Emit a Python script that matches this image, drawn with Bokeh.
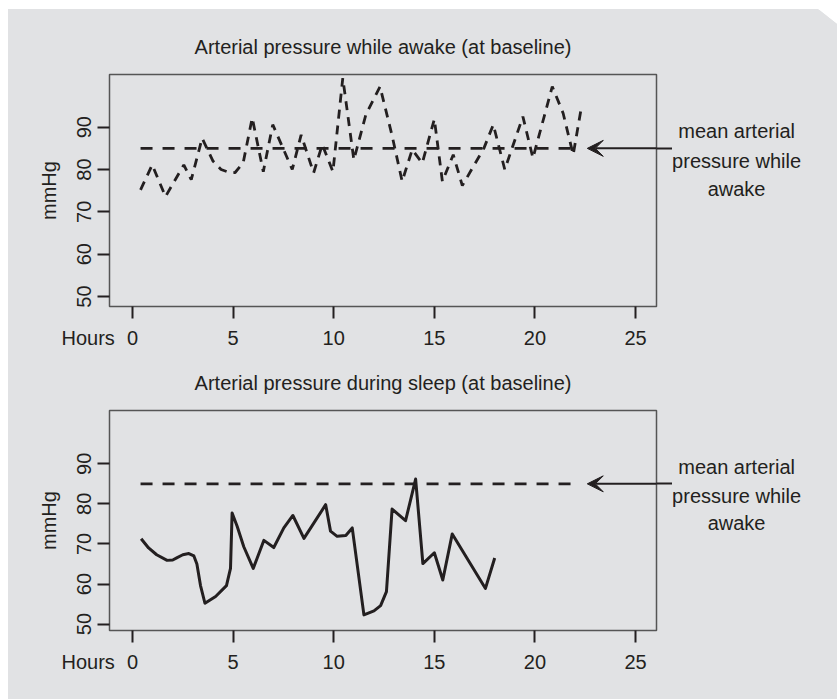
from bokeh.plotting import figure
from bokeh.layouts import column, row
from bokeh.models import Arrow, VeeHead, FixedTicker, Range1d, Title, LinearAxis
from bokeh.core.properties import value
from bokeh.embed import file_html
from bokeh.resources import INLINE

# ---------------- data ----------------
awake_hours = [0.4, 0.98, 1.64, 2.55, 2.92, 3.46, 4.0, 4.4, 4.87, 5.1, 5.5, 5.95, 6.5, 6.97,
               7.94, 8.38, 9.0, 9.43, 9.96, 10.45, 11.0, 11.6, 12.3, 12.9, 13.4, 13.9, 14.4,
               15.0, 15.4, 15.94, 16.39, 17.46, 17.93, 18.5, 19.4, 19.9, 20.86, 21.4, 21.9, 22.3]
awake_mmhg = [75.2, 81.1, 73.6, 81.1, 77.6, 87.4, 82.0, 80.0, 79.2, 79.3, 81.6, 92.2, 79.5, 90.6,
              80.0, 88.2, 79.2, 85.9, 79.5, 101.6, 82.3, 93.0, 99.6, 88.0, 77.2, 84.7, 81.5,
              91.9, 77.2, 83.5, 76.2, 85.0, 90.6, 80.0, 92.5, 82.7, 99.6, 93.3, 83.5, 94.5]

sleep_hours = [0.43, 0.8, 1.2, 1.72, 2.0, 2.22, 2.5, 2.8, 3.05, 3.2, 3.38, 3.6, 4.13, 4.67, 4.87,
               4.95, 5.2, 5.53, 6.0, 6.53, 7.02, 7.52, 7.97, 8.52, 9.6, 9.84, 10.17, 10.6, 10.92,
               11.5, 12.0, 12.33, 12.62, 12.9, 13.57, 14.07, 14.43, 15.0, 15.42, 15.89, 17.54, 18.0]
sleep_mmhg = [71.3, 69.0, 67.3, 65.9, 66.0, 66.6, 67.3, 67.6, 67.0, 65.0, 59.6, 55.2, 56.9, 59.6, 63.9,
              77.7, 74.4, 69.3, 63.9, 70.9, 69.1, 74.0, 77.1, 71.4, 79.8, 73.2, 71.9, 72.1, 74.0,
              52.3, 53.3, 54.6, 58.1, 78.7, 75.8, 86.2, 65.1, 67.8, 61.0, 72.5, 58.9, 66.5]

mean_awake = 85
mean_line_hours = [0.4, 22.2]
x_ticks = [0, 5, 10, 15, 20, 25]
y_ticks = [50, 60, 70, 80, 90]
titles = ["Arterial pressure while awake (at baseline)",
          "Arterial pressure during sleep (at baseline)"]
note_lines = ["mean arterial", "pressure while", "awake"]
note_hours = [30.02, 30.02, 30.02]
note_mmhg = [89.1, 82.0, 75.3]

BG = "#e1e2e4"
INK = "#231f20"
FONT = "Liberation Sans"

X0, X1 = -1.143, 26.04          # main x range (hours)
FRAME_W, FRAME_H = 547, 232
LEFT_B, RIGHT_B = 101, 16
RIGHT_W = 165


def make_panel(title, top, bottom, yr, corner=False):
    height = top + FRAME_H + bottom
    p = figure(width=LEFT_B + FRAME_W + RIGHT_B, height=height,
               x_range=Range1d(X0, X1), y_range=Range1d(*yr),
               output_backend="svg", toolbar_location=None,
               min_border_left=LEFT_B, min_border_right=RIGHT_B,
               min_border_top=top, min_border_bottom=bottom,
               styles={"background-color": BG})
    p.background_fill_color = BG
    p.border_fill_color = BG
    p.outline_line_color = "#555555"
    p.outline_line_width = 1.5
    p.grid.visible = False

    p.title.text = title
    p.title.align = "center"
    p.title.text_font = FONT
    p.title.text_font_size = "20px"
    p.title.text_font_style = "normal"
    p.title.text_color = INK
    p.title.standoff = 33

    for ax in (p.xaxis[0], p.yaxis[0]):
        ax.axis_line_color = None
        ax.major_tick_in = 0
        ax.major_tick_out = 12
        ax.major_tick_line_width = 2
        ax.major_tick_line_color = INK
        ax.minor_tick_line_color = None
        ax.major_label_text_font = FONT
        ax.major_label_text_font_size = "20px"
        ax.major_label_text_color = INK
    p.xaxis.ticker = FixedTicker(ticks=x_ticks)
    p.xaxis.major_label_standoff = 12
    p.yaxis.ticker = FixedTicker(ticks=y_ticks)
    p.yaxis.major_label_orientation = "vertical"
    p.yaxis.major_label_standoff = 6
    p.yaxis.axis_label = "mmHg"
    p.yaxis.axis_label_text_font = FONT
    p.yaxis.axis_label_text_font_size = "20px"
    p.yaxis.axis_label_text_font_style = "normal"
    p.yaxis.axis_label_text_color = INK
    p.yaxis.axis_label_standoff = 15

    # tail of the arrow, outside the frame (a single tick at the mean level)
    tail = LinearAxis(ticker=FixedTicker(ticks=[mean_awake]), axis_line_color=None,
                      major_tick_in=0, major_tick_out=RIGHT_B, major_tick_line_width=2,
                      major_tick_line_color=INK, minor_tick_line_color=None,
                      major_label_overrides={mean_awake: ""}, major_label_standoff=0,
                      major_label_text_font_size="1px")
    p.add_layout(tail, "right")

    # "Hours" placed left of the x tick labels
    hours = Title(text="Hours", align="left", vertical_align="top", offset=-48, standoff=-42,
                  text_font=FONT, text_font_size="20px", text_font_style="normal",
                  text_color=INK)
    p.add_layout(hours, "below")

    # mean line + arrow
    p.line(mean_line_hours, [mean_awake, mean_awake], line_color=INK, line_width=2.8,
           line_dash="12 10")
    p.add_layout(Arrow(end=VeeHead(size=16, fill_color=INK, line_color=INK),
                       x_start=X1 + 1, y_start=mean_awake, x_end=22.6, y_end=mean_awake,
                       line_color=INK, line_width=2))

    # right-hand note panel (frame is aligned with the main frame by the row layout)
    hpp = (X1 - X0) / FRAME_W
    rx0 = X1 + RIGHT_B * hpp
    rx1 = rx0 + RIGHT_W * hpp
    q_styles = {"background-color": BG}
    if corner:
        q_styles["clip-path"] = "polygon(0 0, 146px 0, 165px 15px, 165px 100%, 0 100%)"
    q = figure(width=RIGHT_W, height=height, x_range=Range1d(rx0, rx1), y_range=Range1d(*yr),
               output_backend="svg", toolbar_location=None, x_axis_type=None, y_axis_type=None,
               min_border_left=0, min_border_right=0, min_border_top=top,
               min_border_bottom=bottom, styles=q_styles)
    q.background_fill_color = BG
    q.border_fill_color = BG
    q.outline_line_color = None
    q.grid.visible = False
    q.text(x=note_hours, y=note_mmhg, text=note_lines, text_align="center",
           text_baseline="middle", text_font=value(FONT), text_font_size="20px",
           text_color=INK)
    return p, q


p1, q1 = make_panel(titles[0], 65, 47, (47.64, 102.45), corner=True)
p1.line(awake_hours, awake_mmhg, line_color=INK, line_width=2.8, line_dash="9 7")

p2, q2 = make_panel(titles[1], 45, 69, (48.4, 103.3))
p2.line(sleep_hours, sleep_mmhg, line_color=INK, line_width=3, line_join="round")

layout = column(row(p1, q1, spacing=0), row(p2, q2, spacing=0), spacing=0,
                margin=(9, 0, 0, 8))
open("out.html", "w").write(file_html(layout, INLINE))
